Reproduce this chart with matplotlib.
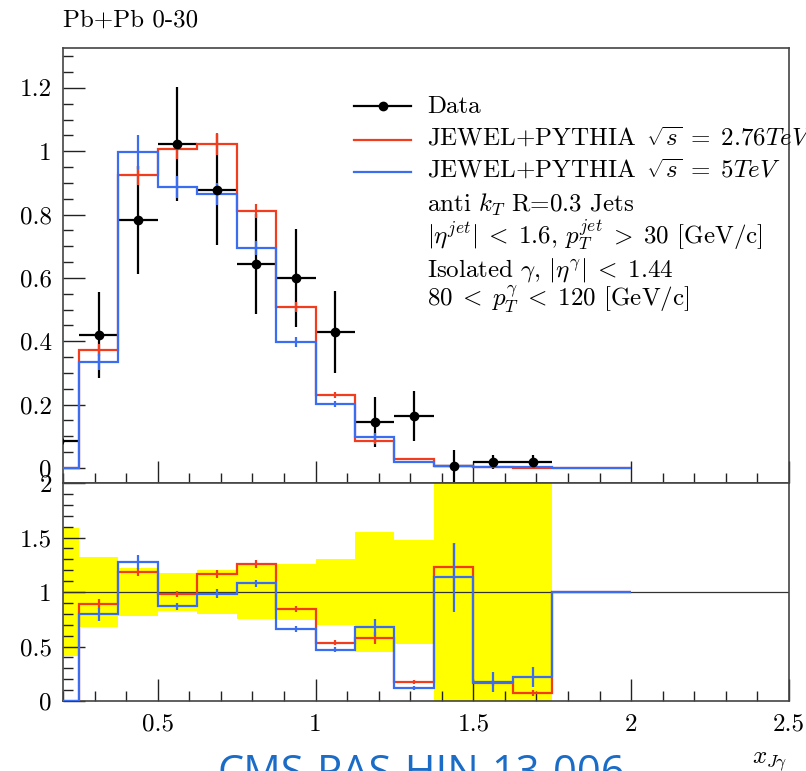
import numpy as np
import matplotlib
matplotlib.use("Agg")
import matplotlib.pyplot as plt
from matplotlib.lines import Line2D
from matplotlib.ticker import MultipleLocator

plt.rcParams['font.family'] = 'serif'
plt.rcParams['font.serif'] = ['cmr10']
plt.rcParams['mathtext.fontset'] = 'cm'
plt.rcParams['axes.unicode_minus'] = False

# x_Jgamma binning (bin width 0.125)
edges = [0.125, 0.25, 0.375, 0.5, 0.625, 0.75, 0.875, 1.0, 1.125,
         1.25, 1.375, 1.5, 1.625, 1.75, 1.875, 2.0]

# CMS data, Pb+Pb 0-30%
data = [0.085, 0.420, 0.783, 1.023, 0.878, 0.644, 0.600, 0.430,
        0.145, 0.164, 0.006, 0.019, 0.019, np.nan, np.nan]
data_err = [0.050, 0.136, 0.170, 0.180, 0.175, 0.158, 0.156, 0.129,
            0.080, 0.078, 0.050, 0.022, 0.022, np.nan, np.nan]

# JEWEL+PYTHIA at 2.76 TeV
jewel_276 = [0.0, 0.373, 0.925, 1.007, 1.023, 0.810, 0.508, 0.230,
             0.084, 0.028, 0.0074, 0.0032, 0.0014, 0.001, 0.001]
jewel_276_err = [0.0, 0.019, 0.030, 0.030, 0.035, 0.022, 0.016, 0.010,
                 0.008, 0.003, 0.0013, 0.0005, 0.0006, 0.0, 0.0]

# JEWEL+PYTHIA at 5 TeV
jewel_5 = [0.0, 0.335, 0.998, 0.887, 0.865, 0.695, 0.398, 0.202,
           0.098, 0.019, 0.0068, 0.0033, 0.0042, 0.001, 0.001]
jewel_5_err = [0.0, 0.025, 0.053, 0.035, 0.035, 0.022, 0.016, 0.010,
               0.011, 0.003, 0.0019, 0.0017, 0.0017, 0.0, 0.0]

edges = np.array(edges)
centers = 0.5 * (edges[:-1] + edges[1:])
halfw = 0.5 * np.diff(edges)
data = np.array(data)
data_err = np.array(data_err)

RED = '#f23c1e'
BLUE = '#3a6df0'
FRAME = '#444444'

fig = plt.figure(figsize=(8.06, 7.71), dpi=100)
W, H = 806.0, 771.0
ax = fig.add_axes([63 / W, 1 - 483 / H, 726 / W, 435 / H])
axr = fig.add_axes([63 / W, 1 - 701 / H, 726 / W, 218 / H], sharex=ax)


def style(a):
    for s in a.spines.values():
        s.set_color(FRAME)
        s.set_linewidth(1.2)
    a.tick_params(which='both', direction='in', top=False, right=False,
                  color='#222222', width=1.0, labelsize=18)
    a.tick_params(which='major', length=15.8)
    a.tick_params(which='minor', length=7.2)
    a.tick_params(axis='y', pad=8)
    a.tick_params(axis='x', pad=9)


# --- upper panel: distributions ---
ax.errorbar(centers, data, xerr=halfw, yerr=data_err, fmt='none',
            ecolor='k', elinewidth=1.6, zorder=3)
for vals, errs, col, z in [(jewel_276, jewel_276_err, RED, 4),
                           (jewel_5, jewel_5_err, BLUE, 5)]:
    ax.stairs(vals, edges, baseline=None, color=col, lw=1.6, zorder=z)
    ax.errorbar(centers, vals, yerr=errs, fmt='none', ecolor=col,
                elinewidth=1.6, zorder=z)
ax.plot(centers, data, 'o', color='k', ms=6, zorder=6)

ax.set_xlim(0.2, 2.5)
ax.set_ylim(-0.0474, 1.326)
ax.set_yticks([0, 0.2, 0.4, 0.6, 0.8, 1.0, 1.2],
              ['0', '0.2', '0.4', '0.6', '0.8', '1', '1.2'])
ax.yaxis.set_minor_locator(MultipleLocator(0.05))
ax.xaxis.set_major_locator(MultipleLocator(0.5))
ax.xaxis.set_minor_locator(MultipleLocator(0.1))
style(ax)
ax.tick_params(labelbottom=False)

# --- lower panel: ratio to data ---
rel = data_err / data
axr.bar(centers, 2 * rel, bottom=1 - rel, width=0.125, color='#ffff00',
        edgecolor='none', zorder=1)
axr.axhline(1.0, color='#333333', lw=0.9, zorder=2)
for vals, errs, col, z in [(jewel_276, jewel_276_err, RED, 3),
                           (jewel_5, jewel_5_err, BLUE, 4)]:
    ratio = np.array(vals) / data
    ratio[np.isnan(data)] = 1.0
    rerr = np.array(errs) / data
    axr.stairs(ratio, edges, baseline=None, color=col, lw=1.6, zorder=z)
    axr.errorbar(centers, ratio, yerr=rerr, fmt='none', ecolor=col,
                 elinewidth=1.6, zorder=z)

axr.set_ylim(0, 2)
axr.set_yticks([0, 0.5, 1, 1.5, 2], ['0', '0.5', '1', '1.5', '2'])
axr.yaxis.set_minor_locator(MultipleLocator(0.1))
axr.set_xticks([0.5, 1.0, 1.5, 2.0, 2.5], ['0.5', '1', '1.5', '2', '2.5'])
axr.xaxis.set_minor_locator(MultipleLocator(0.1))
style(axr)
axr.set_xlim(0.2, 2.5)

# --- labels and legend ---
fig.text(63 / W, 1 - 27 / H, 'Pb+Pb 0-30', fontsize=18, va='baseline')
fig.text(787 / W, 1 - 763 / H, r'$x_{J\gamma}$', fontsize=18,
         ha='right', va='baseline')
fig.text(421 / W, 1 - 785 / H, 'CMS-PAS-HIN-13-006', fontsize=30,
         family='Open Sans', color='#1a6cc6', ha='center', va='baseline')

legend_rows = [
    'Data',
    r'JEWEL+PYTHIA $\,\sqrt{s}\; =\; 2.76TeV$',
    r'JEWEL+PYTHIA $\,\sqrt{s}\; =\; 5TeV$',
    r'anti $k_T$ R=0.3 Jets',
    r'$|\eta^{jet}|\; <\; 1.6$, $p_T^{jet}\; >\; 30$ [GeV/c]',
    r'Isolated $\gamma$, $|\eta^{\gamma}|\; <\; 1.44$',
    r'$80\; <\; p_T^{\gamma}\; <\; 120$ [GeV/c]',
]
baselines = [113, 146, 178, 212, 244, 276, 306]
for txt, yb in zip(legend_rows, baselines):
    fig.text(427 / W, 1 - yb / H, txt, fontsize=18, va='baseline')

handle_y = [106, 140, 172]
for yh, col in zip(handle_y, ['k', RED, BLUE]):
    fig.add_artist(Line2D([354 / W, 411 / W], [1 - yh / H, 1 - yh / H],
                          color=col, lw=1.6, transform=fig.transFigure))
fig.add_artist(Line2D([382.5 / W], [1 - 106 / H], marker='o', ms=6,
                      color='k', transform=fig.transFigure))

fig.savefig('out.png', dpi=100)
